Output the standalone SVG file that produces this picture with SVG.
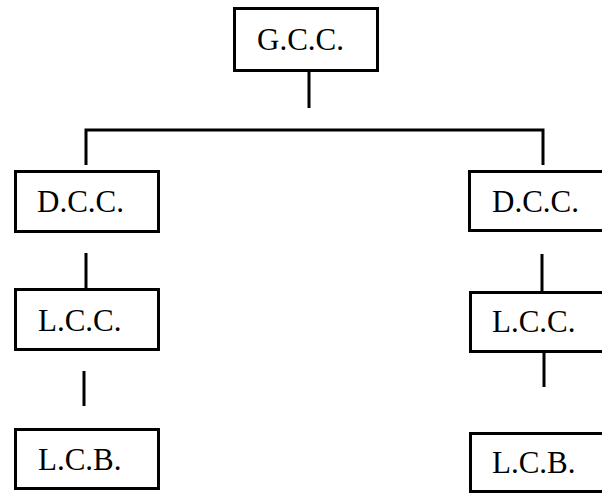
<svg xmlns="http://www.w3.org/2000/svg" width="602" height="494" viewBox="0 0 602 494">
<style>
.box{fill:#fff;stroke:#000;stroke-width:3}
.lbl{font-family:"Liberation Serif","Times New Roman",serif;font-size:31px;fill:#000}
.con{fill:none;stroke:#000;stroke-width:3}
</style>
<rect width="602" height="494" fill="#fff"/>
<g id="connectors">
<line class="con" x1="309" y1="71" x2="309" y2="108"/>
<polyline class="con" points="86,165 86,130 543,130 543,165"/>
<line class="con" x1="86" y1="253" x2="86" y2="289"/>
<line class="con" x1="84" y1="371" x2="84" y2="406"/>
<line class="con" x1="542" y1="254" x2="542" y2="292"/>
<line class="con" x1="544" y1="352" x2="544" y2="387"/>
</g>
<g id="gcc">
<rect class="box" x="234.5" y="8.5" width="143" height="62"/>
<text class="lbl" x="257" y="50">G.C.C.</text>
</g>
<g id="dcc-left">
<rect class="box" x="15.5" y="171.5" width="143" height="60"/>
<text class="lbl" x="37" y="212">D.C.C.</text>
</g>
<g id="dcc-right">
<rect class="box" x="469.5" y="171.5" width="143" height="59"/>
<text class="lbl" x="492" y="212">D.C.C.</text>
</g>
<g id="lcc-left">
<rect class="box" x="15.5" y="289.5" width="143" height="60"/>
<text class="lbl" x="38" y="331">L.C.C.</text>
</g>
<g id="lcc-right">
<rect class="box" x="470.5" y="292.5" width="143" height="59"/>
<text class="lbl" x="492" y="332">L.C.C.</text>
</g>
<g id="lcb-left">
<rect class="box" x="15.5" y="429.5" width="143" height="59"/>
<text class="lbl" x="38" y="470">L.C.B.</text>
</g>
<g id="lcb-right">
<rect class="box" x="470.5" y="433.5" width="143" height="58"/>
<text class="lbl" x="492" y="473">L.C.B.</text>
</g>
</svg>
